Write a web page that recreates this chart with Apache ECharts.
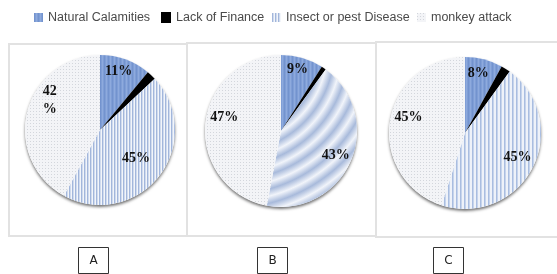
<!DOCTYPE html>
<html><head><meta charset="utf-8">
<script src="https://cdn.jsdelivr.net/npm/echarts@6/dist/echarts.min.js"></script>
<style>html,body{margin:0;padding:0;background:#fff}#c{width:557px;height:274px}</style>
</head><body><div id="c"></div>
<script>
const categories = ['Natural Calamities', 'Lack of Finance', 'Insect or pest Disease', 'monkey attack'];
const panelNames = ['A', 'B', 'C'];
const valuesA = [11, 2, 45, 42];
const valuesB = [9, 1, 43, 47];
const valuesC = [8, 2, 45, 45];

function pat(w, h, draw) {
  const c = document.createElement('canvas');
  c.width = w; c.height = h;
  draw(c.getContext('2d'));
  return { image: c, repeat: 'repeat' };
}
const naturalFill = pat(4, 4, g => {
  g.fillStyle = '#7f9ed6'; g.fillRect(0, 0, 4, 4);
  g.fillStyle = '#7393ce'; g.fillRect(0, 0, 1, 4);
  g.fillStyle = '#8eaadd'; g.fillRect(2, 0, 1, 4);
});
const insectFill = pat(3, 1, g => {
  g.fillStyle = '#a2b6db'; g.fillRect(0, 0, 1, 1);
  g.fillStyle = '#d0dbee'; g.fillRect(1, 0, 1, 1);
  g.fillStyle = '#f2f5fa'; g.fillRect(2, 0, 1, 1);
});
const insectFillC = pat(4, 1, g => {
  g.fillStyle = '#a9bde0'; g.fillRect(0, 0, 1, 1);
  g.fillStyle = '#c6d4ec'; g.fillRect(1, 0, 1, 1);
  g.fillStyle = '#eef2f9'; g.fillRect(2, 0, 2, 1);
});
const monkeyFill = pat(3, 3, g => {
  g.fillStyle = '#f3f4f7'; g.fillRect(0, 0, 3, 3);
  g.fillStyle = '#d3d6dc'; g.fillRect(0, 0, 1, 1);
});
const waveStops = [];
for (let i = 0; i <= 30; i++) {
  waveStops.push({ offset: i / 30, color: i % 2 ? '#a8badb' : '#f1f4fa' });
}
const insectWaves = { type: 'radial', x: -0.4, y: -0.15, r: 2.3, colorStops: waveStops };

const fills = {
  A: [naturalFill, '#000000', insectFill, monkeyFill],
  B: [naturalFill, '#000000', insectWaves, monkeyFill],
  C: [naturalFill, '#000000', insectFillC, monkeyFill]
};
const labelShift = {
  A: [[5, -21], [0, 0], [4, 4], [-11, -20]],
  B: [[5, -22], [0, 0], [17, 8], [-16, -10]],
  C: [[3, -20], [0, 0], [16, 6], [-16, -9]]
};
const panels = [
  { name: 'A', values: valuesA, center: [100, 130], r: 75, wrapLast: true },
  { name: 'B', values: valuesB, center: [281, 131], r: 76, wrapLast: false },
  { name: 'C', values: valuesC, center: [465, 133], r: 76, wrapLast: false }
];

const series = [];
panels.forEach(p => {
  series.push({
    type: 'pie', silent: true, z: 1, center: p.center, radius: p.r,
    label: { show: false }, labelLine: { show: false },
    itemStyle: { color: '#ffffff', shadowColor: 'rgba(0,0,0,0.55)', shadowBlur: 3, shadowOffsetY: 2 },
    data: [{ name: 'base' + p.name, value: 1 }]
  });
  series.push({
    type: 'pie', z: 2, center: p.center, radius: p.r, startAngle: 90, clockwise: true,
    animation: false,
    label: {
      position: 'inside', color: '#111', fontFamily: 'Liberation Serif', fontWeight: 'bold', fontSize: 14,
      lineHeight: 18,
      formatter: prm => (p.wrapLast && prm.dataIndex === 3) ? prm.value + '\n%' : prm.value + '%'
    },
    labelLine: { show: false },
    labelLayout: prm => ({ dx: labelShift[p.name][prm.dataIndex][0], dy: labelShift[p.name][prm.dataIndex][1] }),
    data: categories.map((c, i) => ({
      name: c, value: p.values[i],
      itemStyle: { color: fills[p.name][i] },
      label: { show: p.values[i] >= 3 }
    }))
  });
});

const legendLeft = [34, 161, 272, 417];
const legends = categories.map((c, i) => ({
  data: [c], left: legendLeft[i], top: 11, padding: 0, itemWidth: i === 1 ? 10 : 9, itemHeight: i === 1 ? 11 : 9,
  icon: 'rect', selectedMode: false,
  textStyle: { fontFamily: 'Liberation Sans', fontSize: 12.5, color: '#4a4a4a' }
}));

const graphic = [
  { type: 'rect', shape: { x: 9, y: 44, width: 178, height: 192 }, style: { fill: 'none', stroke: '#e2e2e2', lineWidth: 2 }, z: 0 },
  { type: 'rect', shape: { x: 187, y: 43, width: 189, height: 193 }, style: { fill: 'none', stroke: '#e2e2e2', lineWidth: 2 }, z: 0 },
  { type: 'rect', shape: { x: 376, y: 42, width: 190, height: 195 }, style: { fill: 'none', stroke: '#e2e2e2', lineWidth: 2 }, z: 0 }
];
const boxLeft = [78.5, 257.5, 433.5];
panelNames.forEach((n, i) => {
  graphic.push({ type: 'rect', shape: { x: boxLeft[i], y: 247.5, width: 30, height: 26 }, style: { fill: '#fff', stroke: '#333', lineWidth: 1 } });
  graphic.push({ type: 'text', x: boxLeft[i] + 15, y: 261, style: { text: n, fill: '#222', font: '12px "DejaVu Sans"', textAlign: 'center', textVerticalAlign: 'middle' } });
});

const chart = echarts.init(document.getElementById('c'), null, { renderer: 'canvas' });
chart.setOption({ animation: false, backgroundColor: '#ffffff', legend: legends, series, graphic });
</script>
</body></html>
